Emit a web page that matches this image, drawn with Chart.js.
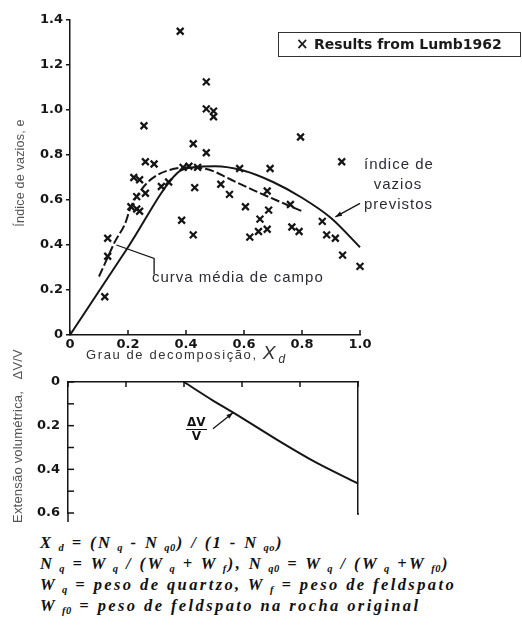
<!DOCTYPE html>
<html>
<head>
<meta charset="utf-8">
<script src="https://cdn.jsdelivr.net/npm/chart.js@4.4.1/dist/chart.umd.min.js"></script>
<style>
  body { margin: 0; background: #fff; width: 522px; height: 626px; overflow: hidden; position: relative; font-family: "Liberation Sans", Arial, sans-serif; }
  canvas { position: absolute; left: 0; }
  #topChart { top: 0; }
  #botChart { top: 360px; }
  .note { position: absolute; color: #2c2c38; white-space: nowrap; font-size: 15px; letter-spacing: 1px; line-height: 20px; }
  .ytitle { position: absolute; color: #555; white-space: nowrap; transform: translate(-50%, -50%) rotate(-90deg); left: 0; top: 0; }
  #legend { position: absolute; left: 278px; top: 32px; width: 241px; height: 23px; border: 1.5px solid #333; font-family: "DejaVu Sans", sans-serif; font-weight: bold; font-size: 14px; color: #1a1a1a; line-height: 23px; }
  #formulas { position: absolute; left: 40px; top: 533px; font-family: "Liberation Serif", serif; font-style: italic; font-weight: bold; font-size: 16.5px; line-height: 19px; letter-spacing: 2.4px; color: #111; white-space: nowrap; }
  #formulas s { text-decoration: none; font-size: 10.5px; position: relative; top: 3px; letter-spacing: 0.5px; margin: 0 1px 0 5px; }
</style>
</head>
<body>
<canvas id="topChart" width="522" height="360"></canvas>
<canvas id="botChart" width="522" height="170"></canvas>

<div id="legend"><span style="position:absolute;left:17px;font-size:15px">&#215;</span><span style="position:absolute;left:35px">Results from Lumb1962</span></div>

<div class="ytitle" style="left:20px;top:173px;font-size:12.5px;letter-spacing:0.2px">Índice de vazios, e</div>
<div class="ytitle" style="left:17px;top:436px;font-size:13px;letter-spacing:0.2px">Extensão volumétrica,&nbsp;&nbsp;&nbsp;ΔV/V</div>

<div style="position:absolute;left:86px;top:342px;font-size:13px;letter-spacing:1.6px;color:#333;white-space:nowrap">Grau de decomposição, <i style="font-size:19px;letter-spacing:0">X</i><i style="font-size:12px;position:relative;top:4px;margin-left:3px">d</i></div>

<div class="note" style="left:152px;top:267px">curva média de campo</div>
<div class="note" style="left:364px;top:154px;width:68px;text-align:center">índice de<br>vazios<br>previstos</div>

<div style="position:absolute;left:186px;top:416px;font-size:12px;font-weight:bold;color:#111;text-align:center;line-height:13px;font-family:'DejaVu Sans',sans-serif">
  <div style="border-bottom:1.5px solid #111;padding:0 1px">ΔV</div><div>V</div>
</div>

<div id="formulas">
  X<s>d</s> = (N<s>q</s> - N<s>q0</s>) / (1 - N<s>qo</s>)<br>
  N<s>q</s> = W<s>q</s> / (W<s>q</s> + W<s>f</s>), N<s>q0</s> = W<s>q</s> / (W<s>q</s> +W<s>f0</s>)<br>
  W<s>q</s> = peso de quartzo, W<s>f</s> = peso de feldspato<br>
  W<s>f0</s> = peso de feldspato na rocha original
</div>

<script>
// Lumb 1962 results (grau de decomposição x, índice de vazios e)
const lumbX = [0.12, 0.13, 0.13, 0.21, 0.23, 0.24, 0.22, 0.24, 0.23, 0.26, 0.26, 0.29, 0.255, 0.315, 0.34,
               0.38, 0.385, 0.425, 0.43, 0.425, 0.47, 0.47, 0.47, 0.495, 0.495, 0.39, 0.41, 0.44, 0.585, 0.52,
               0.55, 0.605, 0.62, 0.65, 0.655, 0.68, 0.685, 0.68, 0.69, 0.76, 0.765, 0.79, 0.795, 0.87, 0.885,
               0.915, 0.94, 1.0, 0.937];
const lumbY = [0.17, 0.35, 0.43, 0.57, 0.56, 0.55, 0.70, 0.69, 0.615, 0.63, 0.77, 0.76, 0.93, 0.66, 0.68,
               1.35, 0.51, 0.445, 0.655, 0.85, 0.81, 1.125, 1.005, 0.995, 0.97, 0.745, 0.75, 0.745, 0.74, 0.67,
               0.625, 0.57, 0.435, 0.46, 0.515, 0.47, 0.555, 0.64, 0.74, 0.58, 0.48, 0.46, 0.88, 0.505, 0.445,
               0.43, 0.355, 0.305, 0.77];

// índice de vazios previstos
const prevX = [0, 0.2, 0.37, 0.42, 0.5, 0.6, 0.7, 0.8, 0.9, 1.0];
const prevY = [0, 0.39, 0.72, 0.745, 0.75, 0.73, 0.68, 0.61, 0.52, 0.39];

// curva média de campo
const campoX = [0.10, 0.13, 0.155, 0.19, 0.21, 0.24, 0.265, 0.30, 0.335, 0.40, 0.46, 0.50, 0.54, 0.63, 0.71, 0.80];
const campoY = [0.26, 0.345, 0.415, 0.495, 0.57, 0.635, 0.675, 0.71, 0.73, 0.745, 0.74, 0.725, 0.70, 0.645, 0.60, 0.55];

// extensão volumétrica ΔV/V
const dvX = [0.4, 0.5, 0.57, 0.74, 0.85, 1.0];
const dvY = [0, 0.085, 0.14, 0.28, 0.365, 0.465];

const xTicks = [0, 0.2, 0.4, 0.6, 0.8, 1.0];
const eTicks = [0, 0.2, 0.4, 0.6, 0.8, 1.0, 1.2, 1.4];
const dvTicks = [0, 0.1, 0.2, 0.3, 0.4, 0.5, 0.6];
const dvLabels = ['0', '', '0.2', '', '0.4', '', '0.6'];

const pts = (xs, ys) => xs.map((x, i) => ({ x, y: ys[i] }));
const fmt = v => (v === 0 ? '0' : v.toFixed(1));
const tickFont = { family: 'DejaVu Sans', size: 13, weight: 'bold' };
const ink = '#151515';

// ticks drawn inside the plot, leader lines and arrows
const extras = {
  id: 'extras',
  afterDraw(chart, args, opts) {
    const ctx = chart.ctx, a = chart.chartArea;
    ctx.save();
    ctx.strokeStyle = ink;
    ctx.fillStyle = ink;
    ctx.lineWidth = 1.5;
    (opts.inTicks || []).forEach(m => {
      const s = chart.scales[m.scale];
      m.values.forEach(v => {
        const p = s.getPixelForValue(v);
        ctx.beginPath();
        if (m.edge === 'bottom') { ctx.moveTo(p, a.bottom); ctx.lineTo(p, a.bottom - m.len); }
        if (m.edge === 'top') { ctx.moveTo(p, a.top); ctx.lineTo(p, a.top + m.len); }
        if (m.edge === 'left') { ctx.moveTo(a.left, p); ctx.lineTo(a.left + m.len, p); }
        ctx.stroke();
      });
    });
    const xs = chart.scales.x, ys = chart.scales.y;
    (opts.leaders || []).forEach(l => {
      const P = l.path.map(([x, y]) => [xs.getPixelForValue(x), ys.getPixelForValue(y)]);
      ctx.lineWidth = 1.3;
      ctx.beginPath();
      P.forEach(([x, y], i) => (i ? ctx.lineTo(x, y) : ctx.moveTo(x, y)));
      ctx.stroke();
      if (l.arrow) {
        const [x1, y1] = P[P.length - 2], [x2, y2] = P[P.length - 1];
        const ang = Math.atan2(y2 - y1, x2 - x1);
        ctx.beginPath();
        ctx.moveTo(x2, y2);
        ctx.lineTo(x2 - 7 * Math.cos(ang - 0.35), y2 - 7 * Math.sin(ang - 0.35));
        ctx.lineTo(x2 - 7 * Math.cos(ang + 0.35), y2 - 7 * Math.sin(ang + 0.35));
        ctx.closePath();
        ctx.fill();
      }
    });
    if (opts.extendAxes) {
      ctx.lineWidth = 1.5;
      ctx.beginPath();
      ctx.moveTo(a.left, a.bottom); ctx.lineTo(a.left, a.bottom + 9);
      ctx.moveTo(a.right, a.bottom); ctx.lineTo(a.right, a.bottom + 2);
      ctx.stroke();
    }
    ctx.restore();
  }
};

new Chart(document.getElementById('topChart'), {
  type: 'scatter',
  data: {
    datasets: [
      { label: 'Results from Lumb 1962', data: pts(lumbX, lumbY), pointStyle: 'crossRot', pointRadius: 4.8,
        borderColor: ink, borderWidth: 2.2, clip: false },
      { label: 'índice de vazios previstos', data: pts(prevX, prevY), showLine: true, borderColor: ink,
        borderWidth: 2, pointRadius: 0, cubicInterpolationMode: 'monotone', clip: false },
      { label: 'curva média de campo', data: pts(campoX, campoY), showLine: true, borderColor: ink,
        borderWidth: 2, borderDash: [9, 3], pointRadius: 0, cubicInterpolationMode: 'monotone', clip: false }
    ]
  },
  options: {
    responsive: false,
    animation: false,
    layout: { padding: { left: 0, right: 162, top: 20, bottom: 0 } },
    plugins: {
      legend: { display: false },
      tooltip: { enabled: false },
      extras: {
        inTicks: [{ scale: 'x', edge: 'bottom', values: xTicks, len: 5 }],
        leaders: [
          { path: [[0.16, 0.40], [0.29, 0.34], [0.29, 0.27]] },
          { path: [[1.0, 0.585], [0.915, 0.525]], arrow: true }
        ]
      }
    },
    scales: {
      x: {
        type: 'linear', min: 0, max: 1,
        afterBuildTicks: s => { s.ticks = xTicks.map(v => ({ value: v })); },
        afterFit: s => { s.height = 25; },
        grid: { display: false, drawTicks: false, tickLength: 0 },
        border: { display: true, color: ink, width: 1.5 },
        ticks: { font: tickFont, color: ink, padding: 2, maxRotation: 0, callback: fmt }
      },
      y: {
        type: 'linear', min: 0, max: 1.4,
        afterBuildTicks: s => { s.ticks = eTicks.map(v => ({ value: v })); },
        afterFit: s => { s.width = 70; },
        grid: { drawOnChartArea: false, drawTicks: true, tickLength: 4, color: ink, lineWidth: 1.5 },
        border: { display: true, color: ink, width: 1.5 },
        ticks: { font: tickFont, color: ink, padding: 3, callback: fmt }
      }
    }
  },
  plugins: [extras]
});

new Chart(document.getElementById('botChart'), {
  type: 'scatter',
  data: {
    datasets: [
      { label: 'ΔV/V', data: pts(dvX, dvY), showLine: true, borderColor: ink, borderWidth: 2,
        pointRadius: 0, cubicInterpolationMode: 'monotone', clip: false }
    ]
  },
  options: {
    responsive: false,
    animation: false,
    layout: { padding: { left: 0, right: 164, top: 22, bottom: 17 } },
    plugins: {
      legend: { display: false },
      tooltip: { enabled: false },
      extras: {
        inTicks: [
          { scale: 'x', edge: 'top', values: xTicks, len: 5 },
          { scale: 'y', edge: 'left', values: dvTicks, len: 6 }
        ],
        leaders: [{ path: [[0.5, 0.214], [0.569, 0.141]], arrow: true }],
        extendAxes: true
      }
    },
    scales: {
      x: {
        type: 'linear', position: 'top', min: 0, max: 1,
        afterFit: s => { s.height = 0; },
        grid: { display: false },
        ticks: { display: false },
        border: { display: true, color: ink, width: 1.5 }
      },
      y: {
        type: 'linear', min: 0, max: 0.6, reverse: true,
        afterBuildTicks: s => { s.ticks = dvTicks.map(v => ({ value: v })); },
        afterFit: s => { s.width = 68; },
        grid: { display: false, drawTicks: false, tickLength: 0 },
        border: { display: true, color: ink, width: 1.5 },
        ticks: { font: tickFont, color: ink, padding: 8, callback: (v, i) => dvLabels[i] }
      },
      y2: {
        type: 'linear', position: 'right', min: 0, max: 0.6, reverse: true,
        afterFit: s => { s.width = 0; },
        grid: { display: false },
        ticks: { display: false },
        border: { display: true, color: ink, width: 1.5 }
      }
    }
  },
  plugins: [extras]
});
</script>
</body>
</html>
